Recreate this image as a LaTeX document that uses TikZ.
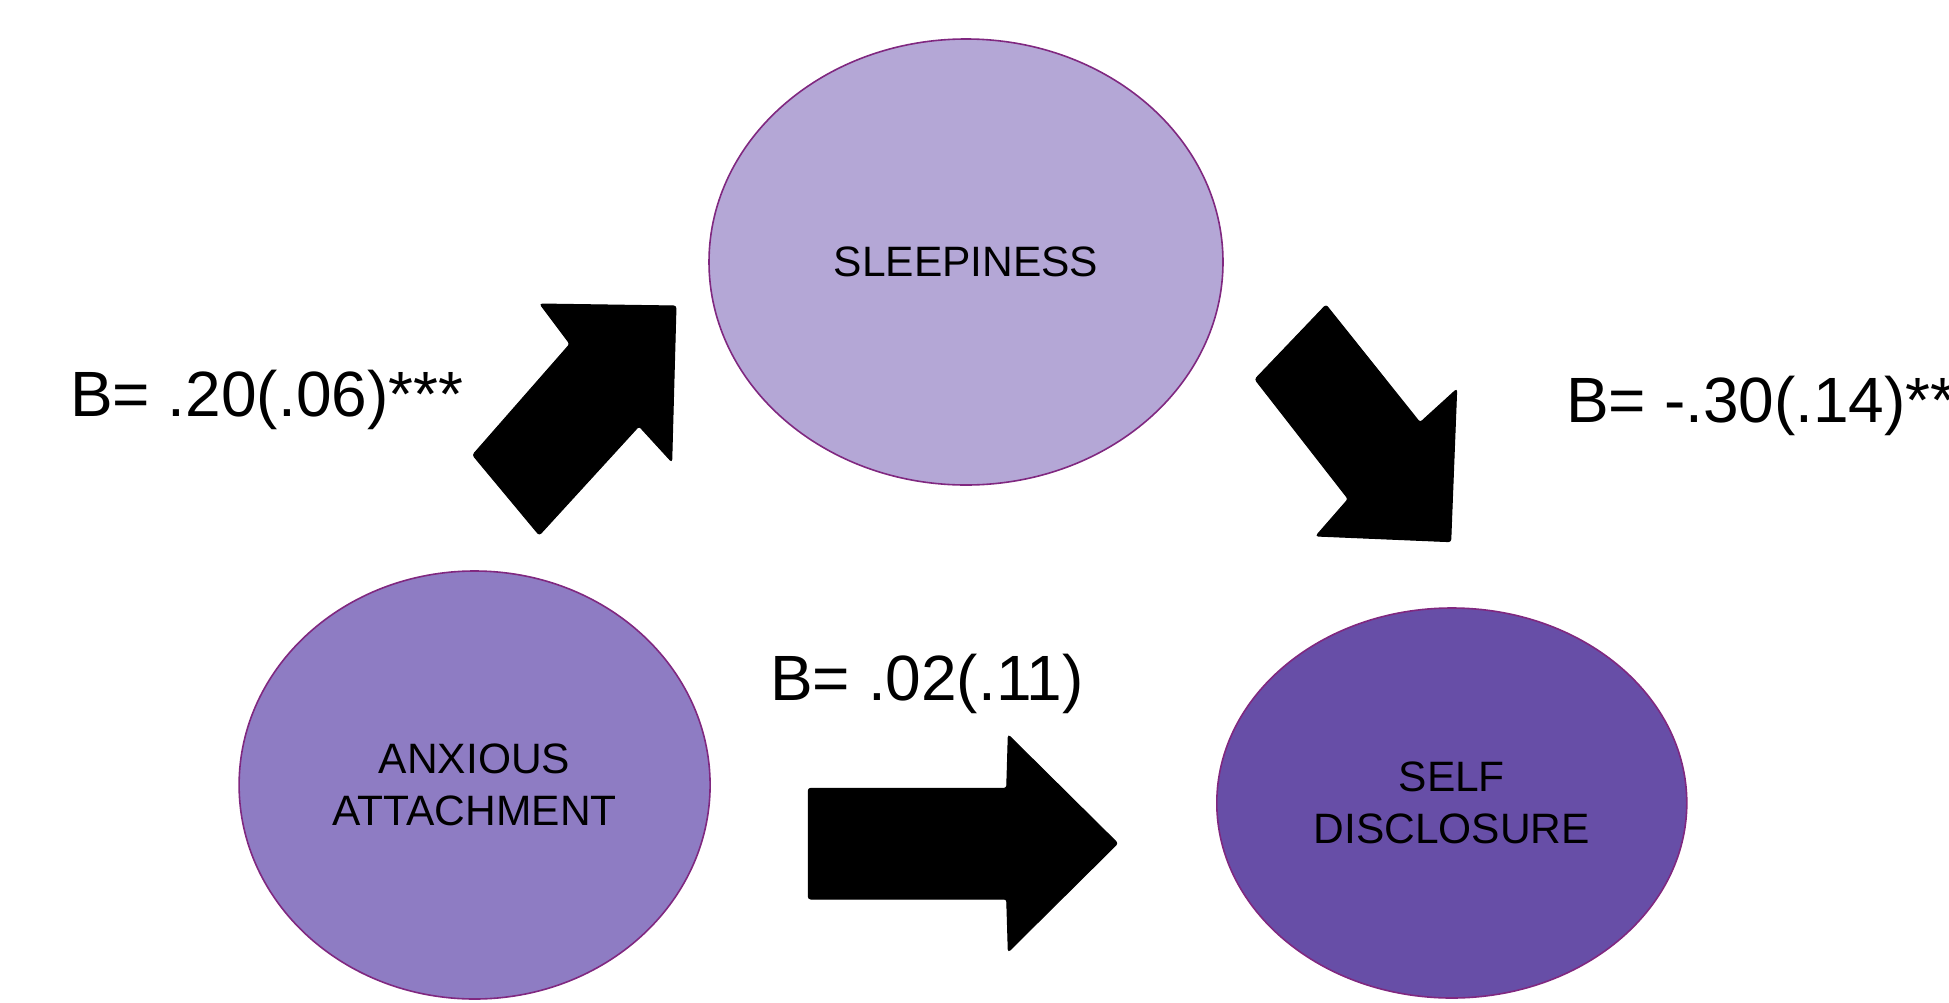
\documentclass[tikz,border=0pt]{standalone}
\usepackage{fontspec}
\setmainfont{Liberation Sans}
\usetikzlibrary{shapes.geometric}

\definecolor{edgepurple}{RGB}{128,40,128}
\definecolor{sleepfill}{HTML}{B4A7D6}
\definecolor{anxfill}{HTML}{8E7CC3}
\definecolor{selffill}{HTML}{674EA7}

\tikzset{
  construct/.style={ellipse, draw=edgepurple, line width=1.6pt, inner sep=0pt,
    align=center, text=black, font=\fontsize{42.5}{52}\selectfont},
  blockarrow/.style={fill=black, draw=black, line width=1pt, rounded corners=2.5pt},
  coef/.style={anchor=base west, inner sep=0pt, font=\fontsize{64}{72}\selectfont}
}

\begin{document}
\begin{tikzpicture}[x=1pt, y=-1pt]
  \useasboundingbox (0,0) rectangle (1949,1002);

  % variables of the mediation model
  \node[construct, fill=sleepfill, minimum width=514pt, minimum height=446pt]
    (sleep) at (966,262) {SLEEPINESS};
  \node[construct, fill=anxfill, minimum width=471pt, minimum height=428pt]
    (anx) at (474.6,785) {ANXIOUS\\ATTACHMENT};
  \node[construct, fill=selffill, minimum width=470pt, minimum height=390pt]
    (self) at (1451.8,803) {SELF\\DISCLOSURE};

  % path a: anxious attachment -> sleepiness
  \draw[blockarrow] (540,304) -- (676,306) -- (671.7,461.7) -- (639,426)
    -- (539.3,535) -- (472.7,455) -- (570,344) -- cycle;

  % path b: sleepiness -> self disclosure
  \draw[blockarrow] (1326,305) -- (1420,422.7) -- (1456.7,389.3) -- (1450.7,541.7)
    -- (1316,536) -- (1348.3,499) -- (1255,379.3) -- cycle;

  % direct path c': anxious attachment -> self disclosure
  \draw[blockarrow] (808.3,788.3) -- (1006.7,788.3) -- (1008.3,735) -- (1117.7,843.3)
    -- (1008.3,951.7) -- (1006.7,899) -- (808.3,899) -- cycle;

  % path coefficients
  \node[coef] (ca) at (70,416) {B= .20(.06)***};
  \node[coef] (cb) at (1566,422) {B= -.30(.14)**};
  \node[coef] (cc) at (770,700) {B= .02(.11)};
\end{tikzpicture}
\end{document}
